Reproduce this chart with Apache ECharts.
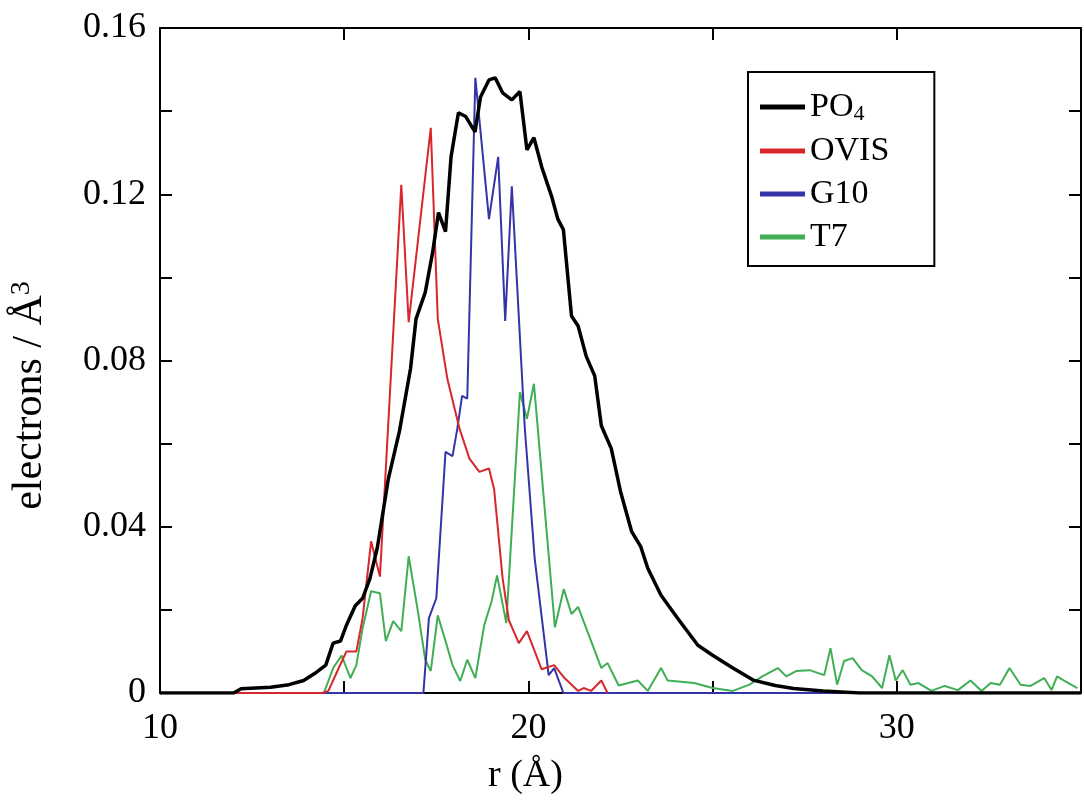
<!DOCTYPE html>
<html>
<head>
<meta charset="utf-8">
<script src="https://cdn.jsdelivr.net/npm/echarts@6/dist/echarts.min.js"></script>
<style>html,body{margin:0;padding:0;background:#fff}#c{width:1084px;height:800px}</style>
</head>
<body>
<div id="c"></div>
<script>
// r (Å), electrons / Å^3
const po4 = [[10,0],[12,0],[12.2,0.001],[13,0.0014],[13.5,0.002],[13.9,0.003],[14.25,0.005],[14.5,0.0067],[14.7,0.012],[14.9,0.0125],[15.06,0.0163],[15.3,0.021],[15.5,0.0228],[15.7,0.0276],[15.9,0.035],[16.2,0.0516],[16.5,0.063],[16.8,0.078],[16.95,0.090],[17.2,0.0964],[17.4,0.106],[17.56,0.1156],[17.75,0.111],[17.9,0.129],[18.1,0.1396],[18.3,0.1387],[18.55,0.135],[18.7,0.1434],[18.93,0.1475],[19.1,0.148],[19.3,0.1444],[19.55,0.1427],[19.77,0.1447],[19.96,0.1307],[20.15,0.1336],[20.36,0.1266],[20.63,0.1195],[20.8,0.114],[20.95,0.1115],[21.17,0.0907],[21.35,0.0883],[21.57,0.081],[21.8,0.0763],[21.98,0.0643],[22.25,0.0588],[22.5,0.0485],[22.8,0.0389],[23.05,0.0352],[23.24,0.030],[23.6,0.0235],[24.05,0.018],[24.6,0.0115],[25.0,0.0091],[25.55,0.006],[26.1,0.0031],[26.7,0.0018],[27.2,0.0011],[28,0.0005],[29,0],[35,0]];
const ovis = [[10,0],[14.4,0],[14.57,0.0005],[14.8,0.005],[15.06,0.010],[15.33,0.010],[15.5,0.018],[15.73,0.0365],[15.97,0.028],[16.55,0.1223],[16.75,0.0892],[17.35,0.136],[17.54,0.090],[17.8,0.0756],[18.13,0.0636],[18.4,0.0564],[18.67,0.0532],[18.93,0.054],[19.07,0.049],[19.3,0.0276],[19.47,0.0175],[19.74,0.012],[19.96,0.0149],[20.36,0.0057],[20.7,0.0067],[20.98,0.0036],[21.35,0.0005],[21.5,0.0012],[21.7,0.0005],[21.98,0.003],[22.15,0]];
const g10 = [[10,0],[17.15,0],[17.3,0.018],[17.5,0.0228],[17.75,0.058],[17.94,0.057],[18.07,0.0636],[18.2,0.0715],[18.34,0.0708],[18.56,0.148],[18.93,0.114],[19.18,0.129],[19.37,0.0895],[19.55,0.1219],[19.9,0.064],[20.17,0.0324],[20.55,0.0043],[20.7,0.006],[20.95,0],[35,0]];
const t7 = [[10,0],[14.45,0],[14.7,0.006],[14.93,0.009],[15.17,0.0036],[15.33,0.0067],[15.5,0.0156],[15.73,0.0245],[15.97,0.024],[16.13,0.0125],[16.33,0.0173],[16.55,0.0149],[16.75,0.0329],[17.0,0.0197],[17.2,0.008],[17.35,0.0053],[17.54,0.0187],[17.75,0.0125],[17.94,0.0067],[18.15,0.0029],[18.34,0.008],[18.56,0.0036],[18.8,0.0163],[19.0,0.022],[19.15,0.0283],[19.4,0.0168],[19.77,0.0724],[19.96,0.066],[20.15,0.0744],[20.72,0.0158],[20.96,0.025],[21.17,0.019],[21.35,0.0207],[21.98,0.006],[22.15,0.0072],[22.45,0.0018],[22.97,0.003],[23.24,0.0005],[23.6,0.006],[23.78,0.003],[24.5,0.0024],[25.0,0.0012],[25.55,0.0005],[26.0,0.002],[26.35,0.004],[26.77,0.006],[27.0,0.004],[27.28,0.0053],[27.63,0.0055],[28.03,0.0043],[28.2,0.0108],[28.38,0.002],[28.57,0.0077],[28.8,0.0084],[29.05,0.0055],[29.33,0.004],[29.6,0.0012],[29.8,0.0091],[29.97,0.003],[30.16,0.0055],[30.37,0.002],[30.59,0.0024],[30.94,0.0005],[31.3,0.0017],[31.66,0.0007],[32.0,0.003],[32.3,0.0005],[32.55,0.0024],[32.8,0.002],[33.06,0.006],[33.36,0.002],[33.63,0.0017],[34.0,0.0036],[34.2,0.0007],[34.35,0.004],[34.54,0.003],[34.9,0.0012]];

const seriesNames = ['PO4','OVIS','G10','T7'];
const seriesColors = ['#000000','#d8262b','#3434a8','#3fae55'];
const seriesWidths = [3.5,2,2,2];
const seriesData = [po4, ovis, g10, t7];

const xTickLabels = [10, 20, 30];
const yTickLabels = [0, 0.04, 0.08, 0.12, 0.16];

const FONT = 'Liberation Serif';
const chart = echarts.init(document.getElementById('c'));

const axisCommon = {
  axisLine: {show: true, onZero: false, lineStyle: {color: '#000', width: 2}},
  axisTick: {show: true, inside: true, length: 12, lineStyle: {color: '#000', width: 2}},
  splitLine: {show: false},
  minorTick: {show: false}
};

chart.setOption({
  animation: false,
  backgroundColor: '#fff',
  grid: {left: 155, top: 28, right: -3, bottom: 105, containLabel: false},
  legend: {
    orient: 'vertical',
    left: 748, top: 72,
    padding: [18, 45, 12, 12],
    borderColor: '#000', borderWidth: 2,
    backgroundColor: '#fff',
    icon: 'rect',
    itemWidth: 45, itemHeight: 5, itemGap: 9,
    data: seriesNames,
    formatter: function (n) { return n === 'PO4' ? '{b|PO}{s|4}' : '{b|' + n + '}'; },
    textStyle: {
      fontFamily: FONT, fontSize: 34, color: '#000',
      rich: {
        b: {fontFamily: FONT, fontSize: 34, color: '#000'},
        s: {fontFamily: FONT, fontSize: 22, color: '#000', verticalAlign: 'bottom', padding: [14, 0, 0, 0]}
      }
    }
  },
  xAxis: [
    Object.assign({}, axisCommon, {
      type: 'value', min: 10, max: 35, interval: 5, position: 'bottom',
      axisLabel: {
        margin: 18, fontFamily: FONT, fontSize: 36, color: '#000',
        formatter: function (v) { return xTickLabels.indexOf(v) >= 0 ? String(v) : ''; }
      },
      name: 'r (Å)', nameLocation: 'middle', nameGap: 64,
      nameTextStyle: {fontFamily: FONT, fontSize: 38, color: '#000', padding: [0, 190, 0, 0]}
    }),
    Object.assign({}, axisCommon, {
      type: 'value', min: 10, max: 35, interval: 5, position: 'top',
      axisLabel: {show: false}
    })
  ],
  yAxis: [
    Object.assign({}, axisCommon, {
      type: 'value', min: 0, max: 0.16, interval: 0.02, position: 'left',
      axisLabel: {
        margin: 14, fontFamily: FONT, fontSize: 36, color: '#000',
        formatter: function (v) {
          for (const t of yTickLabels) { if (Math.abs(v - t) < 1e-9) return t === 0 ? '0' : t.toFixed(2); }
          return '';
        }
      },
      name: '{a|electrons / Å}{s|3}', nameLocation: 'middle', nameGap: 108, nameRotate: 90,
      nameTextStyle: {
        fontFamily: FONT, fontSize: 42, color: '#000', padding: [0, 70, 0, 0],
        rich: {
          a: {fontFamily: FONT, fontSize: 42, color: '#000'},
          s: {fontFamily: FONT, fontSize: 28, color: '#000', verticalAlign: 'top', padding: [0, 0, 16, 0]}
        }
      }
    }),
    Object.assign({}, axisCommon, {
      type: 'value', min: 0, max: 0.16, interval: 0.02, position: 'right',
      axisLabel: {show: false}
    })
  ],
  series: [3, 2, 1, 0].map(function (i) {
    return {
      name: seriesNames[i], type: 'line', data: seriesData[i],
      symbol: 'none', showSymbol: false, smooth: false,
      color: seriesColors[i],
      lineStyle: {color: seriesColors[i], width: seriesWidths[i]},
      z: 2 + (3 - i)
    };
  })
});
</script>
</body>
</html>
